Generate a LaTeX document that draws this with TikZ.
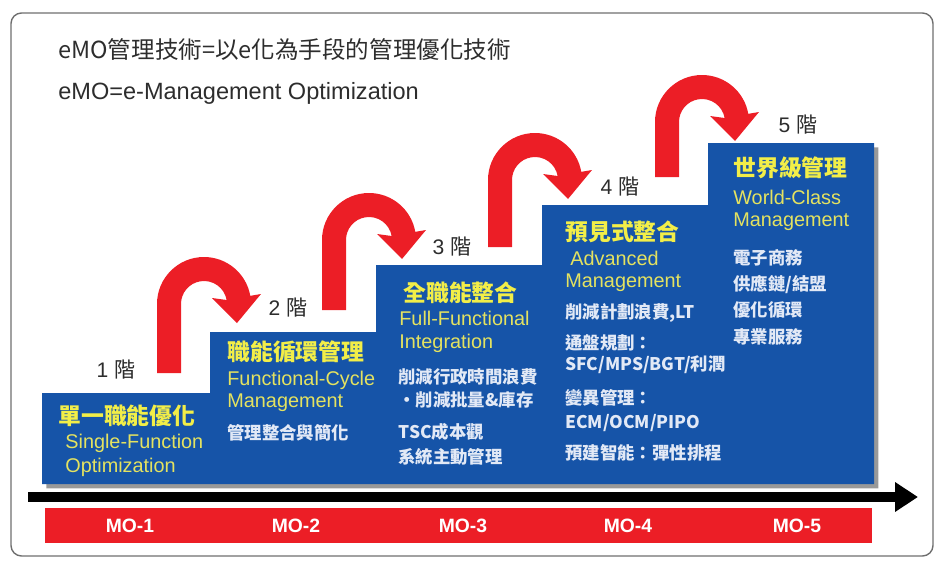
\documentclass[tikz,border=0pt]{standalone}
\usepackage{fontspec}
\setmainfont{Liberation Sans}
\newfontfamily\cjk{Noto Sans CJK TC}
\usetikzlibrary{arrows.meta,shadows}

\definecolor{stepblue}{RGB}{22,84,168}
\definecolor{arrowred}{RGB}{236,30,38}
\definecolor{titleyellow}{RGB}{242,238,72}
\definecolor{enyellow}{RGB}{228,226,96}
\definecolor{notewhite}{RGB}{226,233,246}
\definecolor{labelgray}{RGB}{45,45,45}
\definecolor{framegray}{RGB}{110,110,110}

\tikzset{
  steptitle/.style={anchor=west,inner sep=0pt,text=titleyellow,font=\cjk\bfseries\fontsize{13}{15}\selectfont},
  stepen/.style={anchor=west,inner sep=0pt,text=enyellow,font=\fontsize{11.3}{13}\selectfont},
  stepnote/.style={anchor=west,inner sep=0pt,text=notewhite,font=\cjk\bfseries\fontsize{9.9}{12}\selectfont},
  levellabel/.style={inner sep=0pt,text=labelgray,font=\fontsize{12}{14}\selectfont},
  molabel/.style={inner sep=0pt,text=white,font=\bfseries\fontsize{11}{13}\selectfont},
  pics/uturn/.style={code={
    \fill[arrowred] (0,#1) -- (0,0) arc[start angle=180,end angle=350,radius=47]
      -- (104,-10) -- (80,19) -- (55,-6) -- (69.65,-4)
      arc[start angle=350,end angle=180,radius=23] -- (24,#1) -- cycle;
  }}
}

\begin{document}
\begin{tikzpicture}[x=0.02cm,y=-0.02cm]
\useasboundingbox (0,0) rectangle (937,561);

\draw[framegray,line width=0.8pt,rounded corners=6pt] (11,13) rectangle (933,556);

% -- header
\node[anchor=west,inner sep=0pt,text=labelgray,font=\cjk\fontsize{13.4}{16}\selectfont] (head1) at (58,50) {eMO管理技術=以e化為手段的管理優化技術};
\node[anchor=west,inner sep=0pt,text=labelgray,font=\fontsize{13.4}{16}\selectfont] (head2) at (58,93) {eMO=e-Management Optimization};

% -- staircase
\fill[stepblue,drop shadow={shadow xshift=2.5pt,shadow yshift=-2.5pt,opacity=.5,fill=black!80}]
  (42,484) -- (42,393) -- (210,393) -- (210,332) -- (376,332) -- (376,265)
  -- (542,265) -- (542,205) -- (708,205) -- (708,143) -- (874,143) -- (874,484) -- cycle;

% -- u-turn arrows
\pic (turn1) at (157,304) {uturn=69};
\pic (turn2) at (322,240) {uturn=70};
\pic (turn3) at (488,180) {uturn=67};
\pic (turn4) at (655,122) {uturn=55};

% -- level labels
\node[levellabel] (lv1) at (116,370) {1 {\cjk 階}};
\node[levellabel] (lv2) at (288,308) {2 {\cjk 階}};
\node[levellabel] (lv3) at (452,247) {3 {\cjk 階}};
\node[levellabel] (lv4) at (620,187) {4 {\cjk 階}};
\node[levellabel] (lv5) at (798,125) {5 {\cjk 階}};

% -- step 1
\node[steptitle] (s1t) at (58,416) {單一職能優化};
\node[stepen] (s1e1) at (65,443) {Single-Function};
\node[stepen] (s1e2) at (65,467) {Optimization};

% -- step 2
\node[steptitle] (s2t) at (227,352) {職能循環管理};
\node[stepen] (s2e1) at (227,380) {Functional-Cycle};
\node[stepen] (s2e2) at (227,403) {Management};
\node[stepnote] (s2n1) at (227,433) {管理整合與簡化};

% -- step 3
\node[steptitle] (s3t) at (403,293) {全職能整合};
\node[stepen] (s3e1) at (399,318) {Full-Functional};
\node[stepen] (s3e2) at (399,343) {Integration};
\node[stepnote] (s3n1) at (398,377) {削減行政時間浪費};
\node[stepnote] (s3n2) at (398,400) {・削減批量\&庫存};
\node[stepnote] (s3n3) at (398,432) {TSC成本觀};
\node[stepnote] (s3n4) at (398,457) {系統主動管理};

% -- step 4
\node[steptitle] (s4t) at (565,232) {預見式整合};
\node[stepen] (s4e1) at (570,258) {Advanced};
\node[stepen] (s4e2) at (565,283) {Management};
\node[stepnote] (s4n1) at (565,313) {削減計劃浪費,LT};
\node[stepnote] (s4n2) at (565,343) {通盤規劃：};
\node[stepnote] (s4n3) at (565,365) {SFC/MPS/BGT/利潤};
\node[stepnote] (s4n4) at (565,398) {變異管理：};
\node[stepnote] (s4n5) at (565,423) {ECM/OCM/PIPO};
\node[stepnote] (s4n6) at (565,453) {預建智能：彈性排程};

% -- step 5
\node[steptitle] (s5t) at (733,168) {世界級管理};
\node[stepen] (s5e1) at (733,197) {World-Class};
\node[stepen] (s5e2) at (733,222) {Management};
\node[stepnote] (s5n1) at (733,258) {電子商務};
\node[stepnote] (s5n2) at (733,285) {供應鏈/結盟};
\node[stepnote] (s5n3) at (733,310) {優化循環};
\node[stepnote] (s5n4) at (733,337) {專業服務};

% -- time axis
\coordinate (axis start) at (28,497);
\coordinate (axis end) at (918,497);
\draw[line width=5.5pt,-{Triangle[length=13pt,width=16pt]}] (axis start) -- (axis end);

% -- MO bar
\fill[arrowred] (45,508) rectangle (872,543);
\node[molabel] (mo1) at (130,526) {MO-1};
\node[molabel] (mo2) at (296,526) {MO-2};
\node[molabel] (mo3) at (463,526) {MO-3};
\node[molabel] (mo4) at (628,526) {MO-4};
\node[molabel] (mo5) at (797,526) {MO-5};
\end{tikzpicture}
\end{document}
